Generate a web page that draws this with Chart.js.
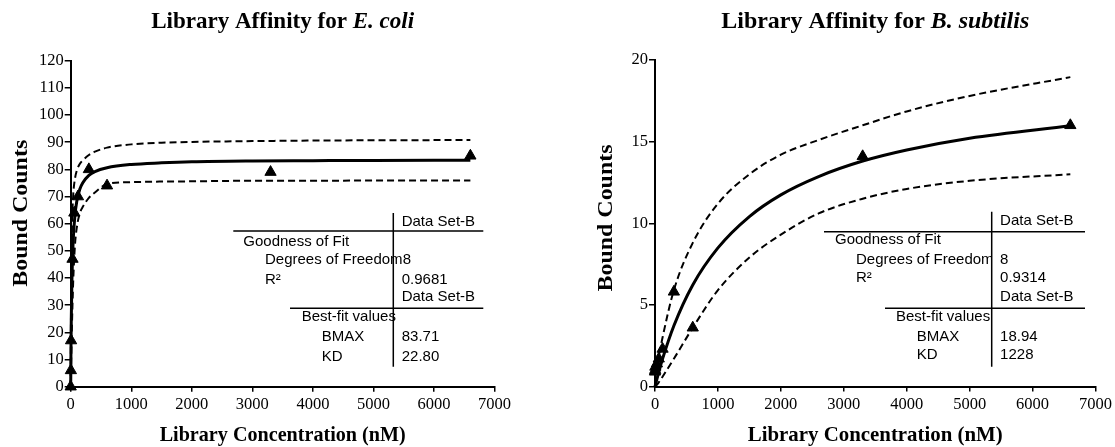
<!DOCTYPE html>
<html><head><meta charset="utf-8">
<script src="https://cdn.jsdelivr.net/npm/chart.js@4.4.0/dist/chart.umd.min.js"></script>
<style>
html,body{margin:0;padding:0;background:#fff;}
#wrap{position:relative;width:1115px;height:447px;overflow:hidden;}
#c1{position:absolute;left:0;top:0;}
#c2{position:absolute;left:557px;top:0;}
</style></head><body>
<div id="wrap"><canvas id="c1" width="557" height="447"></canvas><canvas id="c2" width="558" height="447"></canvas></div>
<script>
// ---------- data ----------
const concentrations = [0, 3, 6, 30, 60, 120, 300, 600, 3300, 6600];
const ecoliBound     = [0, 6, 17, 47, 64, 70, 80, 74, 79, 85];
const bsubBound      = [0.9, 1.0, 1.2, 1.4, 1.7, 2.3, 5.8, 3.6, 14.1, 16.0];

const ecoliCurveX = [0, 5, 10, 20, 40, 70, 100, 150, 200, 300, 400, 600, 1000, 1500, 2000, 3000, 4000, 5000, 6600];
const ecoliFitY   = [0, 15.0, 25.5, 39.1, 53.3, 63.1, 68.2, 72.7, 75.1, 77.8, 79.2, 80.6, 81.8, 82.4, 82.8, 83.1, 83.2, 83.3, 83.4];
const ecoliUpperY = [0, 28, 42, 58, 70, 76.5, 79.5, 82.0, 83.3, 85.3, 86.5, 88.0, 89.2, 89.8, 90.1, 90.4, 90.6, 90.7, 90.8];
const ecoliLowerY = [0, 6, 12, 22, 38, 52, 58.5, 63.8, 66.2, 69.5, 71.5, 74.6, 75.3, 75.5, 75.6, 75.8, 75.8, 75.9, 75.9];

const bsubCurveX = [0, 30, 60, 120, 300, 600, 1000, 1500, 2000, 2600, 3300, 4000, 5000, 6600];
const bsubFitY   = [0, 0.45, 0.88, 1.69, 3.72, 6.22, 8.49, 10.41, 11.74, 12.86, 13.81, 14.49, 15.21, 15.97];
const bsubUpperY = [0, 1.0, 1.8, 3.0, 5.9, 8.8, 11.2, 13.0, 14.2, 15.1, 16.0, 16.85, 17.8, 18.95];
const bsubLowerY = [0, 0.1, 0.25, 0.6, 1.7, 3.6, 5.9, 7.9, 9.3, 10.6, 11.5, 12.1, 12.6, 13.0];

const chartTitles   = [['Library Affinity for ', 'E. coli'], ['Library Affinity for ', 'B. subtilis']];
const xAxisTitle    = 'Library Concentration (nM)';
const yAxisTitle    = 'Bound Counts';
const xTickRange    = [0, 7000, 1000];
const ecoliYRange   = [0, 120, 10];
const bsubYRange    = [0, 20, 5];

const tableLabels      = ['Goodness of Fit', 'Degrees of Freedom', 'R\u00B2', 'Best-fit values', 'BMAX', 'KD'];
const tableHeader      = 'Data Set-B';
const ecoliTableValues = ['8', '0.9681', '83.71', '22.80'];
const bsubTableValues  = ['8', '0.9314', '18.94', '1228'];

// ---------- helpers ----------
const SERIF = '"Liberation Serif", "Times New Roman", serif';
const SANS  = '"Liberation Sans", Arial, sans-serif';
const pts = (xs, ys) => xs.map((x, i) => ({x, y: ys[i]}));

function drawFitted(ctx, parts, x, y, targetW, rotate) {
  let W = 0;
  parts.forEach(p => { ctx.font = p.font; W += ctx.measureText(p.text).width; });
  const s = targetW / W;
  ctx.save();
  ctx.translate(x, y);
  if (rotate) ctx.rotate(-Math.PI / 2);
  ctx.scale(s, 1);
  ctx.fillStyle = '#000';
  ctx.textAlign = 'left';
  ctx.textBaseline = 'alphabetic';
  let cx = -W / 2;
  parts.forEach(p => { ctx.font = p.font; ctx.fillText(p.text, cx, 0); cx += ctx.measureText(p.text).width; });
  ctx.restore();
}

function makeTextPlugin(cfg) {
  return {
    id: 'texts',
    afterDraw(chart) {
      const ctx = chart.ctx, a = chart.chartArea, off = cfg.offset;
      const cx = (a.left + a.right) / 2;
      drawFitted(ctx, [
        {text: cfg.title[0], font: 'bold 24px ' + SERIF},
        {text: cfg.title[1], font: 'italic bold 24px ' + SERIF}
      ], cx, 28, cfg.titleW, false);
      drawFitted(ctx, [{text: xAxisTitle, font: 'bold 22px ' + SERIF}], cx, 441, cfg.xTitleW, false);
      drawFitted(ctx, [{text: yAxisTitle, font: 'bold 22px ' + SERIF}], cfg.yTitleX - off, cfg.yTitleY, 147, true);
      const t = cfg.table;
      ctx.save();
      ctx.strokeStyle = '#000';
      ctx.lineWidth = 1.5;
      ctx.beginPath();
      ctx.moveTo(t.vx - off, t.vy0); ctx.lineTo(t.vx - off, t.vy1);
      ctx.moveTo(t.h1x0 - off, t.h1y); ctx.lineTo(t.hx1 - off, t.h1y);
      ctx.moveTo(t.h2x0 - off, t.h2y); ctx.lineTo(t.hx1 - off, t.h2y);
      ctx.stroke();
      ctx.fillStyle = '#000';
      ctx.font = '15px ' + SANS;
      ctx.textAlign = 'left';
      ctx.textBaseline = 'middle';
      const vx = t.vx - off + 8.4;
      const rows = t.rows;
      ctx.fillText(tableHeader, vx, rows[0]);
      ctx.fillText(tableLabels[0], t.l0 - off, rows[1]);
      if (t.clipLabels) {
        ctx.save();
        ctx.beginPath(); ctx.rect(0, 0, t.vx - off - 0.5, 447); ctx.clip();
        ctx.fillText(tableLabels[1], t.l1 - off, rows[2]);
        ctx.restore();
      } else {
        ctx.fillText(tableLabels[1], t.l1 - off, rows[2]);
      }
      ctx.fillText(cfg.values[0], vx + t.dofShift, rows[2]);
      ctx.fillText(tableLabels[2], t.l1 - off, rows[3]);
      ctx.fillText(cfg.values[1], vx, rows[3]);
      ctx.fillText(tableHeader, vx, rows[4]);
      ctx.fillText(tableLabels[3], t.l2 - off, rows[5]);
      ctx.fillText(tableLabels[4], t.l3 - off, rows[6]);
      ctx.fillText(cfg.values[2], vx, rows[6]);
      ctx.fillText(tableLabels[5], t.l3 - off, rows[7]);
      ctx.fillText(cfg.values[3], vx, rows[7]);
      ctx.restore();
    }
  };
}

function makeChart(canvas, d) {
  const tickFont = {family: SERIF, size: 16.5};
  return new Chart(canvas, {
    type: 'scatter',
    data: {
      datasets: [
        {data: pts(concentrations, d.bound), showLine: false, pointStyle: 'triangle', pointRadius: 6.5,
         pointBackgroundColor: '#000', pointBorderColor: '#000', pointBorderWidth: 1, clip: false},
        {data: pts(d.curveX, d.fit), showLine: true, borderColor: '#000', borderWidth: 3, pointRadius: 0,
         cubicInterpolationMode: 'monotone', clip: 3},
        {data: pts(d.curveX, d.upper), showLine: true, borderColor: '#000', borderWidth: 2, borderDash: [7, 4],
         pointRadius: 0, cubicInterpolationMode: 'monotone', clip: 3},
        {data: pts(d.curveX, d.lower), showLine: true, borderColor: '#000', borderWidth: 2, borderDash: [7, 4],
         pointRadius: 0, cubicInterpolationMode: 'monotone', clip: 3}
      ]
    },
    options: {
      responsive: false,
      animation: false,
      events: [],
      layout: {padding: {top: d.top, right: d.right, left: 0, bottom: 0}},
      plugins: {legend: {display: false}, tooltip: {enabled: false}, title: {display: false}},
      scales: {
        x: {
          type: 'linear', min: xTickRange[0], max: xTickRange[1],
          afterFit: s => { s.height = d.xH; },
          ticks: {stepSize: xTickRange[2], color: '#000', font: tickFont, padding: 3, maxRotation: 0,
                  callback: v => String(v)},
          grid: {drawOnChartArea: false, drawTicks: true, tickLength: 5, color: '#000', lineWidth: 1.5},
          border: {display: true, color: '#000', width: 2}
        },
        y: {
          type: 'linear', min: d.yRange[0], max: d.yRange[1],
          afterFit: s => { s.width = d.yW; },
          ticks: {stepSize: d.yRange[2], color: '#000', font: tickFont, padding: 1,
                  callback: v => String(v)},
          grid: {drawOnChartArea: false, drawTicks: true, tickLength: 6, color: '#000', lineWidth: 1.5},
          border: {display: true, color: '#000', width: 2}
        }
      }
    },
    plugins: [makeTextPlugin(d.text)]
  });
}

makeChart(document.getElementById('c1'), {
  bound: ecoliBound, curveX: ecoliCurveX, fit: ecoliFitY, upper: ecoliUpperY, lower: ecoliLowerY,
  yRange: ecoliYRange, top: 60.7, right: 62.4, xH: 60.3, yW: 70.7,
  text: {offset: 0, title: chartTitles[0], titleW: 263, xTitleW: 246, yTitleX: 26.7, yTitleY: 213.3,
    values: ecoliTableValues,
    table: {vx: 393.3, vy0: 213, vy1: 366.7, h1x0: 233.3, h1y: 231, h2x0: 290, h2y: 308.3, hx1: 483.3,
      l0: 243.3, l1: 265, l2: 301.7, l3: 321.7, clipLabels: false, dofShift: 1,
      rows: [221.7, 241.7, 260, 280, 297.3, 317.3, 336.7, 356.7]}}
});

makeChart(document.getElementById('c2'), {
  bound: bsubBound, curveX: bsubCurveX, fit: bsubFitY, upper: bsubUpperY, lower: bsubLowerY,
  yRange: bsubYRange, top: 60, right: 18, xH: 60.5, yW: 98,
  text: {offset: 557, title: chartTitles[1], titleW: 308, xTitleW: 255, yTitleX: 612, yTitleY: 218,
    values: bsubTableValues,
    table: {vx: 991.7, vy0: 211.7, vy1: 366.7, h1x0: 824, h1y: 231.7, h2x0: 885, h2y: 308.3, hx1: 1085,
      l0: 835, l1: 856, l2: 896, l3: 916.7, clipLabels: true, dofShift: 0,
      rows: [220.7, 240, 260, 278.3, 296.7, 316.7, 336.7, 355]}}
});
</script>
</body></html>
